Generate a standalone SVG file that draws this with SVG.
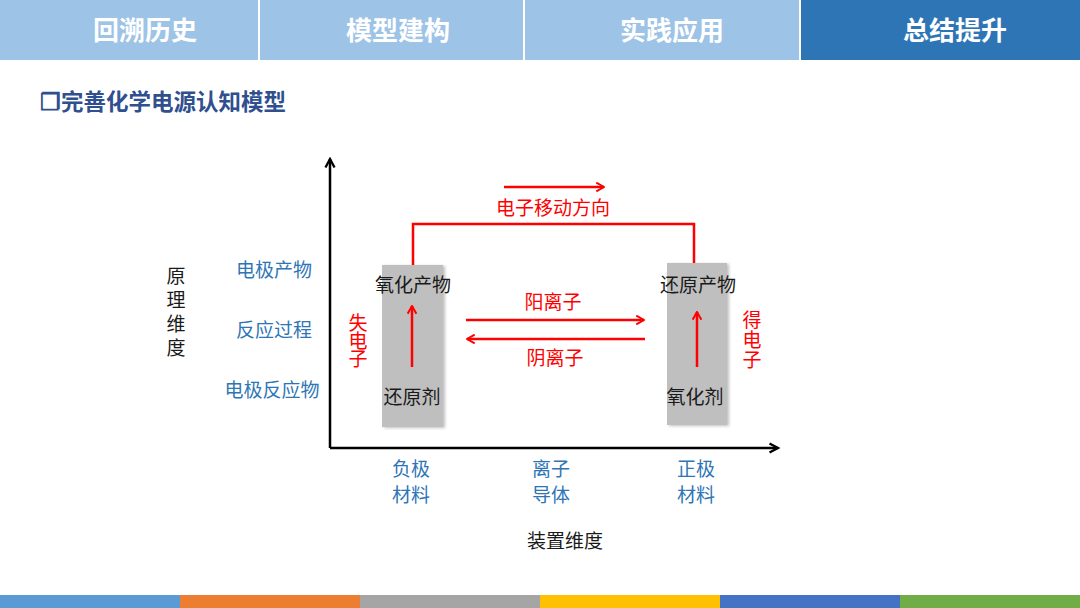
<svg xmlns="http://www.w3.org/2000/svg" width="1080" height="608" viewBox="0 0 1080 608">
<style>
text{font-family:"Noto Sans CJK SC","Liberation Sans",sans-serif;}
.tab{font-size:26px;font-weight:bold;fill:#fff;text-anchor:middle;}
.blk{font-size:19px;fill:#1a1a1a;text-anchor:middle;}
.blu{font-size:19px;fill:#2E75B6;text-anchor:middle;}
.red{font-size:19px;fill:#FF0000;text-anchor:middle;}
.vt{writing-mode:tb;text-anchor:middle;}
.ax{stroke:#000;stroke-width:2.5;fill:none;}
.rl{stroke:#FF0000;stroke-width:2.5;fill:none;}
.box{fill:#BFBFBF;}
</style>
<defs>
<marker id="axh" viewBox="0 0 10 10" refX="8.5" refY="5" markerWidth="13" markerHeight="13" orient="auto" markerUnits="userSpaceOnUse">
<path d="M2,1.5 L8.5,5 L2,8.5" fill="none" stroke="#000" stroke-width="1.8"/>
</marker>
<marker id="rh" viewBox="0 0 10 10" refX="9" refY="5" markerWidth="11" markerHeight="11" orient="auto" markerUnits="userSpaceOnUse">
<path d="M2,1 L9,5 L2,9" fill="none" stroke="#FF0000" stroke-width="1.8"/>
</marker>
<filter id="sh" x="-20%" y="-10%" width="140%" height="120%">
<feGaussianBlur in="SourceAlpha" stdDeviation="1.5"/>
<feOffset dx="2" dy="1" result="b"/>
<feFlood flood-color="#000" flood-opacity="0.25"/>
<feComposite in2="b" operator="in"/>
<feMerge><feMergeNode/><feMergeNode in="SourceGraphic"/></feMerge>
</filter>
</defs>
<rect width="1080" height="608" fill="#fff"/>
<g id="header">
<rect x="0" y="0" width="258" height="60" fill="#9DC3E6"/>
<rect x="260" y="0" width="263" height="60" fill="#9DC3E6"/>
<rect x="525" y="0" width="274" height="60" fill="#9DC3E6"/>
<rect x="801" y="0" width="279" height="60" fill="#2E75B6"/>
<text class="tab" x="145" y="40">回溯历史</text>
<text class="tab" x="398" y="40">模型建构</text>
<text class="tab" x="672" y="40">实践应用</text>
<text class="tab" x="955" y="40">总结提升</text>
</g>
<text x="40" y="110" style="font-size:22.5px;font-weight:bold;fill:#2F4F8F;">❐完善化学电源认知模型</text>
<g id="footer">
<rect x="0" y="595" width="180" height="13" fill="#5B9BD5"/>
<rect x="180" y="595" width="180" height="13" fill="#ED7D31"/>
<rect x="360" y="595" width="180" height="13" fill="#A5A5A5"/>
<rect x="540" y="595" width="180" height="13" fill="#FFC000"/>
<rect x="720" y="595" width="180" height="13" fill="#4472C4"/>
<rect x="900" y="595" width="180" height="13" fill="#70AD47"/>
</g>
<g id="axes">
<path class="ax" d="M330,448 L330,159" marker-end="url(#axh)"/>
<path class="ax" d="M330,448 L778,448" marker-end="url(#axh)"/>
</g>
<g id="anode">
<rect class="box" x="382" y="265" width="61" height="162" filter="url(#sh)"/>
<text class="blk" x="413" y="292">氧化产物</text>
<text class="blk" x="412" y="404">还原剂</text>
</g>
<g id="cathode">
<rect class="box" x="667" y="263" width="60" height="162" filter="url(#sh)"/>
<text class="blk" x="698" y="292">还原产物</text>
<text class="blk" x="695" y="404">氧化剂</text>
</g>
<g id="connectors">
<path class="rl" d="M413,265 L413,224 L694,224 L694,263"/>
<path class="rl" d="M504,187 L604,187" marker-end="url(#rh)"/>
<path class="rl" d="M466,320 L644,320" marker-end="url(#rh)"/>
<path class="rl" d="M645,339 L467,339" marker-end="url(#rh)"/>
<path class="rl" d="M412,367 L412,306" marker-end="url(#rh)"/>
<path class="rl" d="M697,367 L697,312" marker-end="url(#rh)"/>
</g>
<g id="labels">
<text class="red" x="553" y="215">电子移动方向</text>
<text class="red" x="553" y="309">阳离子</text>
<text class="red" x="555" y="365">阴离子</text>
<text class="red vt" x="358" y="340" letter-spacing="-1">失电子</text>
<text class="red vt" x="752" y="340" letter-spacing="1">得电子</text>
<text class="blu" x="274" y="277">电极产物</text>
<text class="blu" x="274" y="337">反应过程</text>
<text class="blu" x="272" y="397">电极反应物</text>
<text class="blk vt" x="176" y="314" letter-spacing="5">原理维度</text>
<text class="blu" x="411" y="476">负极</text>
<text class="blu" x="411" y="502">材料</text>
<text class="blu" x="551" y="476">离子</text>
<text class="blu" x="551" y="502">导体</text>
<text class="blu" x="696" y="476">正极</text>
<text class="blu" x="696" y="502">材料</text>
<text class="blk" x="565" y="548">装置维度</text>
</g>
</svg>
